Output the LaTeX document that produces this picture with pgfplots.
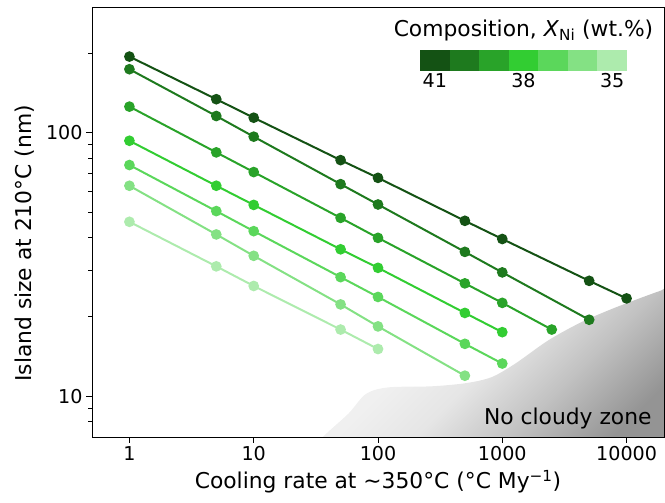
\documentclass[border=0pt]{standalone}
\usepackage{pgfplots}
\pgfplotsset{compat=1.18}
\usepackage{fontspec}
\setmainfont{DejaVu Sans}
\definecolor{c41}{RGB}{20,82,20}
\definecolor{c40}{RGB}{30,122,30}
\definecolor{c39}{RGB}{41,163,41}
\definecolor{c38}{RGB}{50,205,50}
\definecolor{c37}{RGB}{91,215,91}
\definecolor{c36}{RGB}{132,225,132}
\definecolor{c35}{RGB}{173,235,173}
\pgfdeclareverticalshading{nocloud}{100bp}{color(0bp)=(black!42); color(25bp)=(black!42); color(38bp)=(black!24); color(50bp)=(black!10); color(60bp)=(black!6); color(75bp)=(black!5); color(100bp)=(black!5)}
\newcommand{\bigf}{\fontsize{21.8bp}{26bp}\selectfont}
\newcommand{\smallf}{\fontsize{19.1bp}{23bp}\selectfont}
\pgfplotsset{ser/.style={color=#1, line width=2bp, mark=*, mark size=4.3bp, mark options={solid, fill=#1, draw=#1}}}
\begin{document}
\begin{tikzpicture}
\path[use as bounding box] (-92bp,-66bp) rectangle (573bp,437bp);
\begin{axis}[
  at={(0,0)}, anchor=south west,
  scale only axis, width=572bp, height=430bp,
  xmode=log, ymode=log,
  xmin=0.5, xmax=20000, ymin=7, ymax=300,
  xtick={1,10,100,1000,10000},
  xticklabels={1,10,100,1000,10000},
  ytick={10,100}, yticklabels={10,100},
  xminorticks=false,
  minor ytick={8,9,20,30,40,50,60,70,80,90,200},
  tick align=outside,
  xtick pos=left, ytick pos=left,
  major tick length=6bp, minor tick length=4bp,
  tick style={black, line width=0.9bp},
  axis line style={line width=0.9bp},
  axis on top,
  tick label style={font=\smallf},
  label style={font=\bigf},
  xlabel={Cooling rate at \textasciitilde350°C (°C My\textsuperscript{−1})},
  ylabel={Island size at 210°C (nm)},
  xlabel style={at={(axis description cs:0.5,-0.1209)}, anchor=base},
  ylabel style={at={(axis description cs:-0.1049,0.45)}, anchor=base},
]
% no cloudy zone
\addplot[draw=none, shading=nocloud, shading angle=45, smooth, tension=0.5]
  coordinates {(28,6) (36,7) (58,8.6) (80,10.2) (121,10.8) (269,10.9) (505,11.2) (817,11.8) (1274,13.3) (2349,16.3) (4329,19.1) (8128,21.7) (19050,25.2) (25000,26) (25000,6)};
\addplot[ser=c35] coordinates {(1,45.9)(5,31.1)(10,26.2)(50,17.9)(100,15.1)};
\addplot[ser=c36] coordinates {(1,62.9)(5,41.1)(10,34.1)(50,22.3)(100,18.4)(500,11.96)};
\addplot[ser=c37] coordinates {(1,75.4)(5,50.4)(10,42.3)(50,28.3)(100,23.8)(500,15.8)(1000,13.3)};
\addplot[ser=c38] coordinates {(1,93.2)(5,62.9)(10,53.2)(50,36.1)(100,30.7)(500,20.7)(1000,17.5)};
\addplot[ser=c39] coordinates {(1,125.6)(5,84.2)(10,70.9)(50,47.5)(100,39.9)(500,26.8)(1000,22.6)(2500,17.9)};
\addplot[ser=c40] coordinates {(1,174.2)(5,115.7)(10,96.6)(50,63.8)(100,53.4)(500,35.3)(1000,29.5)(5000,19.5)};
\addplot[ser=c41] coordinates {(1,194.5)(5,134.0)(10,114.0)(50,78.7)(100,67.4)(500,46.3)(1000,39.5)(5000,27.4)(10000,23.5)};
\node[anchor=base east, font=\bigf, inner sep=0pt] at (rel axis cs:0.9785,0.028) {No cloudy zone};
\end{axis}
\begin{axis}[
  at={(328bp,366.3bp)}, anchor=south west,
  scale only axis, width=207bp, height=20.7bp,
  xmin=0, xmax=7, ymin=0, ymax=1,
  hide axis, clip=false,
]
\addplot[fill=c41, draw=none] coordinates {(0,1) (1,1)} \closedcycle;
\addplot[fill=c40, draw=none] coordinates {(1,1) (2,1)} \closedcycle;
\addplot[fill=c39, draw=none] coordinates {(2,1) (3,1)} \closedcycle;
\addplot[fill=c38, draw=none] coordinates {(3,1) (4,1)} \closedcycle;
\addplot[fill=c37, draw=none] coordinates {(4,1) (5,1)} \closedcycle;
\addplot[fill=c36, draw=none] coordinates {(5,1) (6,1)} \closedcycle;
\addplot[fill=c35, draw=none] coordinates {(6,1) (7,1)} \closedcycle;
\node[anchor=north, font=\smallf, inner sep=0pt, yshift=-2.5bp] at (axis cs:0.5,0) {41};
\node[anchor=north, font=\smallf, inner sep=0pt, yshift=-2.5bp] at (axis cs:3.5,0) {38};
\node[anchor=north, font=\smallf, inner sep=0pt, yshift=-2.5bp] at (axis cs:6.5,0) {35};
\node[anchor=base, font=\bigf, inner sep=0pt, yshift=13.5bp] at (axis cs:3.5,1) {Composition, \textit{X}\textsubscript{Ni} (wt.\%)};
\end{axis}
\end{tikzpicture}
\end{document}
